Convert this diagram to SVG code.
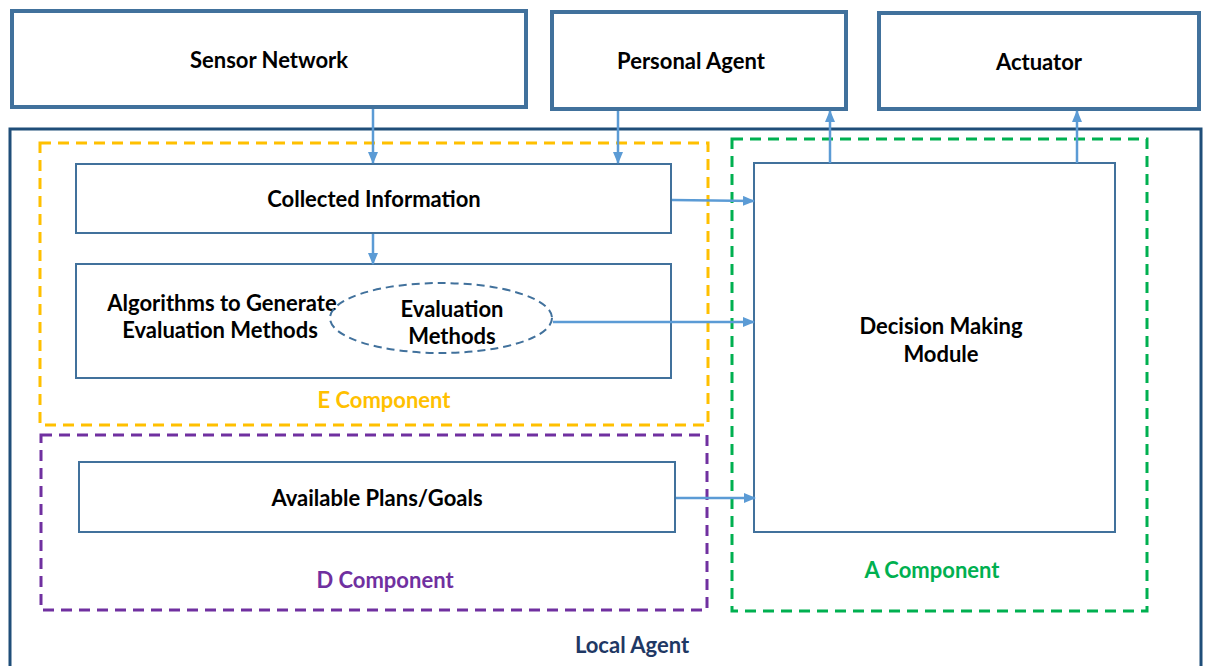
<svg xmlns="http://www.w3.org/2000/svg" width="1205" height="666" viewBox="0 0 1205 666">
  <style>
    .outer { fill: #ffffff; stroke: #41719C; stroke-width: 4; }
    .inner { fill: #ffffff; stroke: #41719C; stroke-width: 2; }
    .agent { fill: #ffffff; stroke: #1F4E79; stroke-width: 3; }
    .zone { fill: none; stroke-width: 3; stroke-dasharray: 11 7; }
    .lbl { font-family: Lato, "Liberation Sans", sans-serif; font-weight: 700; font-size: 22px; text-anchor: middle; fill: #000000; }
    .wire { fill: none; stroke: #5B9BD5; stroke-width: 2.5; marker-end: url(#head); }
  </style>
  <defs>
    <marker id="head" markerUnits="userSpaceOnUse" markerWidth="12" markerHeight="10" refX="11" refY="5" orient="auto">
      <path d="M0,0 L12,5 L0,10 Z" fill="#5B9BD5"/>
    </marker>
  </defs>

  <rect width="1205" height="666" fill="#ffffff"/>

  <!-- local agent frame -->
  <g id="local-agent">
    <rect class="agent" x="10" y="129" width="1191" height="560"/>
    <text class="lbl" x="632" y="653" style="fill:#1F3864">Local Agent</text>
  </g>

  <!-- component zones -->
  <g id="e-component">
    <rect class="zone" x="40" y="143" width="668" height="282" stroke="#FFC000"/>
    <text class="lbl" x="384" y="408" style="fill:#FFC000">E Component</text>
  </g>
  <g id="d-component">
    <rect class="zone" x="41" y="435" width="666" height="175" stroke="#7030A0"/>
    <text class="lbl" x="385" y="588" style="fill:#7030A0">D Component</text>
  </g>
  <g id="a-component">
    <rect class="zone" x="732" y="139" width="415" height="472" stroke="#00B050"/>
    <text class="lbl" x="932" y="578" style="fill:#00B050">A Component</text>
  </g>

  <!-- external nodes -->
  <g id="sensor-network">
    <rect class="outer" x="12" y="11" width="514" height="96"/>
    <text class="lbl" x="269" y="68">Sensor Network</text>
  </g>
  <g id="personal-agent">
    <rect class="outer" x="552" y="12" width="294" height="97"/>
    <text class="lbl" x="691" y="69">Personal Agent</text>
  </g>
  <g id="actuator">
    <rect class="outer" x="879" y="13" width="320" height="96"/>
    <text class="lbl" x="1039" y="70">Actuator</text>
  </g>

  <!-- inner nodes -->
  <g id="collected-information">
    <rect class="inner" x="76" y="164" width="595" height="69"/>
    <text class="lbl" x="374" y="207">Collected Information</text>
  </g>
  <g id="algorithms">
    <rect class="inner" x="76" y="264" width="595" height="114"/>
    <text class="lbl" x="222" y="311">Algorithms to Generate</text>
    <text class="lbl" x="220" y="338">Evaluation Methods</text>
  </g>
  <g id="evaluation-methods">
    <ellipse cx="441" cy="318" rx="111" ry="35" fill="none" stroke="#41719C" stroke-width="2" stroke-dasharray="8 5"/>
    <text class="lbl" x="452" y="317">Evaluation</text>
    <text class="lbl" x="452" y="344">Methods</text>
  </g>
  <g id="available-plans">
    <rect class="inner" x="79" y="462" width="596" height="70"/>
    <text class="lbl" x="377" y="506">Available Plans/Goals</text>
  </g>
  <g id="decision-making">
    <rect class="inner" x="754" y="163" width="361" height="369"/>
    <text class="lbl" x="941" y="334">Decision Making</text>
    <text class="lbl" x="941" y="362">Module</text>
  </g>

  <!-- connectors -->
  <g id="connectors">
    <path class="wire" d="M373,109 L373,163"/>
    <path class="wire" d="M618,111 L618,163"/>
    <path class="wire" d="M373,234 L373,264"/>
    <path class="wire" d="M672,200 L754,201"/>
    <path class="wire" d="M553,322 L754,322"/>
    <path class="wire" d="M676,498 L755,498"/>
    <path class="wire" d="M830,163 L830,111"/>
    <path class="wire" d="M1077,163 L1077,111"/>
  </g>
</svg>
